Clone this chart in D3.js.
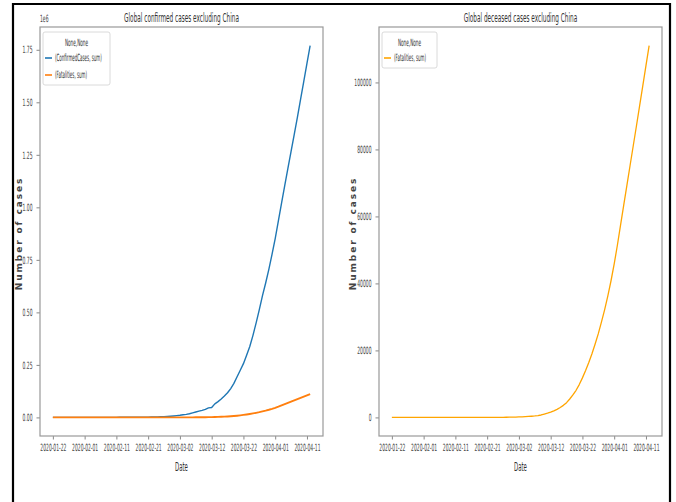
<!DOCTYPE html>
<html><head><meta charset="utf-8">
<script src="https://cdn.jsdelivr.net/npm/d3@7"></script>
<style>html,body{margin:0;padding:0;background:#fff;}svg{display:block;}</style>
</head><body>
<svg id="chart" width="676" height="502"></svg>
<script>
// ---------- data ----------
const startDate = "2020-01-22";
const confirmedExChina = [
  7, 11, 21, 28, 43, 50, 64, 74, 98, 118,
  137, 152, 159, 176, 191, 216, 272, 296, 329, 355,
  394, 444, 448, 510, 522, 600, 675, 800, 1000, 1100,
  1400, 1700, 2100, 2500, 2900, 3600, 4500, 5600, 6900, 8500,
  10300, 12500, 14700, 17500, 21500, 25700, 29700, 33600, 38600, 45500,
  47000, 64600, 75300, 87700, 101700, 117600, 137300, 161800, 193600, 224800,
  255800, 296100, 337300, 390700, 449800, 512900, 579400, 639700, 705000, 776000,
  851000, 935000, 1020000, 1103000, 1185000, 1266000, 1347000, 1430000, 1515000, 1600000,
  1685000, 1770000
];
const fatalitiesExChina = [
  0, 0, 0, 0, 0, 0, 0, 0, 0, 0,
  0, 1, 1, 1, 1, 1, 1, 1, 1, 1,
  1, 1, 1, 2, 3, 3, 4, 5, 5, 8,
  11, 14, 20, 24, 34, 40, 52, 64, 76, 110,
  140, 175, 220, 280, 350, 440, 560, 720, 1000, 1250,
  1550, 1950, 2400, 2950, 3600, 4400, 5500, 6700, 8100, 9800,
  11800, 14000, 16400, 19000, 21900, 25000, 28500, 32200, 36300, 40800,
  45800, 51400, 57400, 63400, 69300, 75200, 81100, 87000, 93000, 99000,
  105000, 111000
];
const xTickLabels = ["2020-01-22","2020-02-01","2020-02-11","2020-02-21","2020-03-02","2020-03-12","2020-03-22","2020-04-01","2020-04-11"];
const leftYTicks = [0, 0.25, 0.5, 0.75, 1.0, 1.25, 1.5, 1.75];
const rightYTicks = [0, 20000, 40000, 60000, 80000, 100000];
const leftTitle = "Global confirmed cases excluding China";
const rightTitle = "Global deceased cases excluding China";
const legendTitle = "None,None";
const leftSeriesNames = ["(ConfirmedCases, sum)", "(Fatalities, sum)"];
const rightSeriesNames = ["(Fatalities, sum)"];

// ---------- build ----------
const parse = d3.utcParse("%Y-%m-%d");
const t0 = parse(startDate);
const dates = confirmedExChina.map((_, i) => d3.utcDay.offset(t0, i));
const svg = d3.select("#chart");
const FONT = "DejaVu Sans";

// horizontally condense text around its own anchor x
function squeeze(sel, f) {
  const k = f || 0.47;
  sel.each(function() {
    const x = +(this.getAttribute("x") || 0);
    this.setAttribute("transform", `translate(${x},0) scale(${k},1) translate(${-x},0)`);
  });
}

// outer frame
svg.append("path").attr("d", "M13,502 V4 H670 V502").attr("fill", "none").attr("stroke", "#000").attr("stroke-width", 2.2);

const dMin = dates[0], dMax = dates[dates.length - 1];
const span = dMax - dMin;
const xDomain = [new Date(+dMin - 0.05 * span), new Date(+dMax + 0.05 * span)];

function panel(cfg) {
  const x = d3.scaleUtc().domain(xDomain).range([cfg.x0, cfg.x1]);
  const maxV = d3.max(cfg.series, s => d3.max(s.values));
  const y = d3.scaleLinear().domain([-0.05 * maxV, 1.05 * maxV]).range([cfg.y1, cfg.y0]);
  const g = svg.append("g");

  // x axis
  const xa = g.append("g").attr("transform", `translate(0,${cfg.y1})`)
    .call(d3.axisBottom(x).tickValues(xTickLabels.map(parse)).tickFormat(d3.utcFormat("%Y-%m-%d")).tickSize(3.5).tickPadding(4));
  xa.select(".domain").remove();
  xa.selectAll("line").attr("stroke", "#888");
  xa.selectAll("text").attr("font-family", FONT).attr("font-size", 10).attr("fill", "#444").call(squeeze, 0.45);

  // y axis
  const ya = g.append("g").attr("transform", `translate(${cfg.x0},0)`)
    .call(d3.axisLeft(y).tickValues(cfg.yTicks.map(v => v * cfg.yMult)).tickFormat((d, i) => cfg.yFmt(cfg.yTicks[i])).tickSize(3.5).tickPadding(4));
  ya.select(".domain").remove();
  ya.selectAll("line").attr("stroke", "#888");
  ya.selectAll("text").attr("font-family", FONT).attr("font-size", 10).attr("fill", "#444").call(squeeze, 0.45);

  // spines
  g.append("rect").attr("x", cfg.x0).attr("y", cfg.y0).attr("width", cfg.x1 - cfg.x0).attr("height", cfg.y1 - cfg.y0)
    .attr("fill", "none").attr("stroke", "#999").attr("stroke-width", 1.2);

  // lines
  const line = d3.line().x((d, i) => x(dates[i])).y(d => y(d));
  cfg.series.forEach(s => {
    g.append("path").datum(s.values).attr("d", line).attr("fill", "none")
      .attr("stroke", s.color).attr("stroke-width", s.width).attr("stroke-linejoin", "round");
  });

  // title
  g.append("text").attr("x", (cfg.x0 + cfg.x1) / 2).attr("y", 22).attr("text-anchor", "middle")
    .attr("font-family", FONT).attr("font-size", 12.5).attr("fill", "#333").text(cfg.title).call(squeeze, 0.46);
  // x label
  g.append("text").attr("x", (cfg.x0 + cfg.x1) / 2).attr("y", 471).attr("text-anchor", "middle")
    .attr("font-family", FONT).attr("font-size", 12).attr("fill", "#333").text("Date").call(squeeze, 0.45);
  // y label
  g.append("text").attr("transform", `translate(${cfg.yLabelX},${(cfg.y0 + cfg.y1) / 2 + 2}) rotate(-90)`)
    .attr("text-anchor", "middle").attr("font-family", FONT).attr("font-size", 9).attr("font-weight", "bold")
    .attr("letter-spacing", 1.9).attr("fill", "#444").text("Number of cases");
  if (cfg.offsetText) {
    g.append("text").attr("x", cfg.x0).attr("y", 22).attr("font-family", FONT).attr("font-size", 10)
      .attr("fill", "#444").text(cfg.offsetText).call(squeeze, 0.45);
  }

  // legend
  const lg = g.append("g").attr("transform", `translate(${cfg.x0 + 3},${cfg.y0 + 5})`);
  lg.append("rect").attr("width", cfg.legendW).attr("height", 19 + cfg.series.length * 17)
    .attr("rx", 2).attr("fill", "#fff").attr("fill-opacity", 0.8).attr("stroke", "#d0d0d0").attr("stroke-width", 0.8);
  lg.append("text").attr("x", cfg.legendW / 2).attr("y", 14).attr("text-anchor", "middle")
    .attr("font-family", FONT).attr("font-size", 10).attr("fill", "#333").text(legendTitle).call(squeeze, 0.42);
  cfg.series.forEach((s, i) => {
    const yy = 26 + i * 17;
    lg.append("line").attr("x1", 2).attr("x2", 9).attr("y1", yy).attr("y2", yy).attr("stroke", s.color).attr("stroke-width", 1.6);
    lg.append("text").attr("x", 12).attr("y", yy + 3.5).attr("font-family", FONT).attr("font-size", 10)
      .attr("fill", "#333").text(s.name).call(squeeze, 0.4);
  });
}

panel({
  x0: 40, x1: 323, y0: 27, y1: 436,
  series: [
    {values: confirmedExChina, color: "#1f77b4", width: 1.4, name: leftSeriesNames[0]},
    {values: fatalitiesExChina, color: "#ff7f0e", width: 1.9, name: leftSeriesNames[1]}
  ],
  yTicks: leftYTicks, yMult: 1e6, yFmt: v => v.toFixed(2),
  title: leftTitle, yLabelX: 22, offsetText: "1e6", legendW: 67
});
panel({
  x0: 379, x1: 662, y0: 27, y1: 436,
  series: [
    {values: fatalitiesExChina, color: "#ffa500", width: 1.3, name: rightSeriesNames[0]}
  ],
  yTicks: rightYTicks, yMult: 1, yFmt: v => String(v),
  title: rightTitle, yLabelX: 356, offsetText: null, legendW: 55
});
</script>
</body></html>
